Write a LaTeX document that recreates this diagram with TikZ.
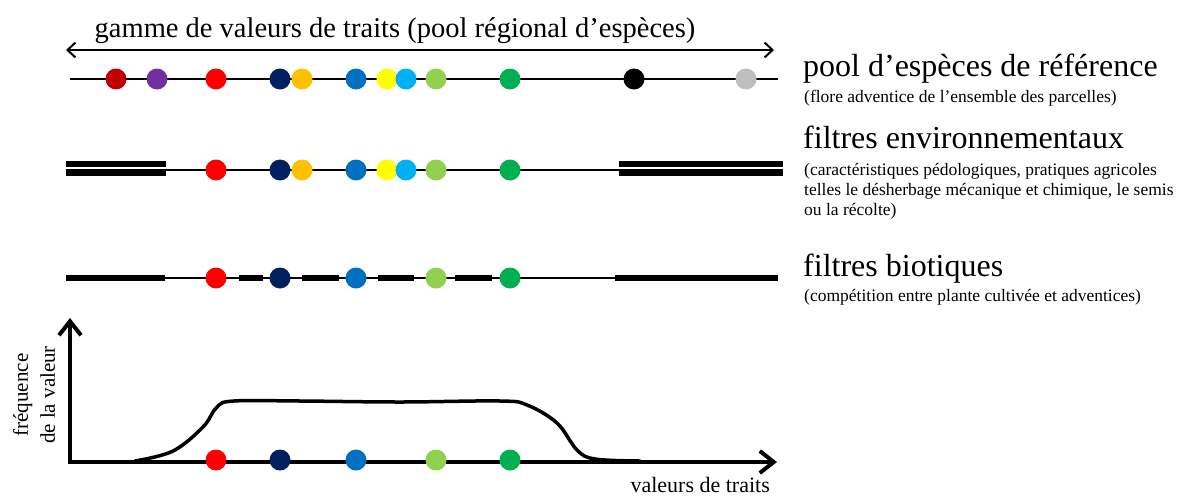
\documentclass[tikz,border=0pt]{standalone}
\usepackage{fontspec}
\setmainfont{Liberation Serif}
\usetikzlibrary{arrows.meta}
\definecolor{rougefonce}{HTML}{C00000}
\definecolor{violet}{HTML}{7030A0}
\definecolor{rouge}{HTML}{FF0000}
\definecolor{marine}{HTML}{002060}
\definecolor{orange}{HTML}{FFC000}
\definecolor{bleu}{HTML}{0070C0}
\definecolor{jaune}{HTML}{FFFF00}
\definecolor{ciel}{HTML}{00B0F0}
\definecolor{vertclair}{HTML}{92D050}
\definecolor{vert}{HTML}{00B050}
\definecolor{gris}{HTML}{BFBFBF}
\tikzset{
  dot/.style={circle, fill=#1, minimum size=21pt, inner sep=0pt},
  trait/.style={line width=2pt},
  barre/.style={line width=6.5pt},
  axe/.style={line width=4pt, {Straight Barb[length=14pt,width=22pt]}-{Straight Barb[length=14pt,width=22pt]}},
  titre/.style={anchor=base west, inner sep=0pt, font=\fontsize{32}{38}\selectfont},
  note/.style={anchor=base west, inner sep=0pt, align=left, font=\fontsize{17.5}{20}\selectfont},
}
\begin{document}
\begin{tikzpicture}[x=1pt,y=-1pt]
\useasboundingbox (0,0) rectangle (1182,498);
% gamme de valeurs
\coordinate (g1) at (66,50);
\coordinate (g2) at (774,50);
\draw[trait, {Straight Barb[length=8pt,width=15pt]}-{Straight Barb[length=8pt,width=15pt]}] (g1) -- (g2);
\node[inner sep=0pt, anchor=base, font=\fontsize{28.5}{34}\selectfont] (gamme) at (395,37) {gamme de valeurs de traits (pool régional d’espèces)};
% pool de reference
\coordinate (l1a) at (70,79);
\coordinate (l1b) at (778,79);
\draw[trait] (l1a) -- (l1b);
\foreach \x/\c [count=\i] in {116/rougefonce,157/violet,216/rouge,280/marine,302/orange,356/bleu,387/jaune,406/ciel,436/vertclair,510/vert,634/black,746/gris}
  \node[dot=\c] (p\i) at (\x,79) {};
% filtres environnementaux
\coordinate (l2a) at (70,170);
\coordinate (l2b) at (778,170);
\draw[trait] (l2a) -- (l2b);
\draw[barre] (66,164) -- (166,164) (66,172.5) -- (166,172.5);
\draw[barre] (619,164) -- (783,164) (619,172.5) -- (783,172.5);
\foreach \x/\c [count=\i] in {216/rouge,280/marine,302/orange,356/bleu,387/jaune,406/ciel,436/vertclair,510/vert}
  \node[dot=\c] (e\i) at (\x,170) {};
% filtres biotiques
\coordinate (l3a) at (70,278);
\coordinate (l3b) at (778,278);
\draw[trait] (l3a) -- (l3b);
\draw[barre] (66,278) -- (165,278) (615,278) -- (778,278);
\foreach \a/\b in {239/263,302/339,378/414,455/492}
  \draw[barre] (\a,278) -- (\b,278);
\foreach \x/\c [count=\i] in {216/rouge,280/marine,356/bleu,436/vertclair,510/vert}
  \node[dot=\c] (b\i) at (\x,278) {};
% distribution
\coordinate (o) at (70,462);
\coordinate (ytop) at (70,318);
\coordinate (xend) at (777,462);
\draw[axe] (ytop) -- (o) -- (xend);
\draw[line width=3.5pt, line cap=round] plot[smooth, tension=0.6] coordinates {(135,461) (173,451) (203,427) (217,407) (234,401) (300,401) (400,402) (500,401) (527,405) (557,423) (577,450) (595,459) (640,461)};
\foreach \x/\c [count=\i] in {216/rouge,280/marine,356/bleu,436/vertclair,510/vert}
  \node[dot=\c] (h\i) at (\x,460) {};
\node[inner sep=0pt, anchor=base east, font=\fontsize{22}{26}\selectfont] (valeurs) at (770,492) {valeurs de traits};
\node[inner sep=0pt, rotate=90, align=center, font=\fontsize{21}{27}\selectfont] (freq) at (34,395) {fréquence\\de la valeur};
% legendes
\node[titre] (pool) at (803,76) {pool d’espèces de référence};
\node[note] (poolnote) at (804,102) {(flore adventice de l’ensemble des parcelles)};
\node[titre] (env) at (803,148) {filtres environnementaux};
\node[note] (envnote) at (804,215) {(caractéristiques pédologiques, pratiques agricoles\\telles le désherbage mécanique et chimique, le semis\\ou la récolte)};
\node[titre] (bio) at (803,276) {filtres biotiques};
\node[note] (bionote) at (804,301) {(compétition entre plante cultivée et adventices)};
\end{tikzpicture}
\end{document}
